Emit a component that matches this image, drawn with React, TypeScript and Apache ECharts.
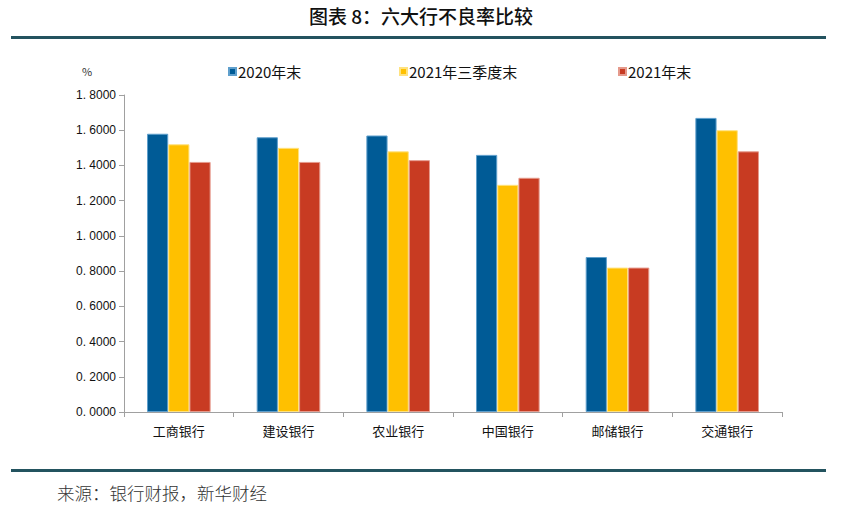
import React, { useEffect, useRef } from "react";
import * as echarts from "echarts";

const categories = ["工商银行", "建设银行", "农业银行", "中国银行", "邮储银行", "交通银行"];
const seriesNames = ["2020年末", "2021年三季度末", "2021年末"];
const values2020 = [1.58, 1.56, 1.57, 1.46, 0.88, 1.67];
const valuesQ3 = [1.52, 1.5, 1.48, 1.29, 0.82, 1.6];
const values2021 = [1.42, 1.42, 1.43, 1.33, 0.82, 1.48];
const colors = ["#005b96", "#ffc000", "#c83b22"];
const borderColors = ["#5f9fcc", "#ffe27f", "#e59a8c"];

const CJK = "'Noto Sans CJK SC', 'Noto Sans', sans-serif";

export default function App() {
  const ref = useRef<HTMLDivElement>(null);
  useEffect(() => {
    if (!ref.current) return;
    const chart = echarts.init(ref.current, null, { renderer: "svg" });
    const data = [values2020, valuesQ3, values2021];
    const legendLefts = [228, 399, 618];
    chart.setOption({
      animation: false,
      backgroundColor: "#ffffff",
      textStyle: { fontFamily: CJK },
      grid: { left: 124, right: 60, top: 95, bottom: 103, containLabel: false },
      legend: seriesNames.map((n, i) => ({
        data: [n],
        left: legendLefts[i],
        top: 64,
        icon: "rect",
        itemWidth: 7,
        itemHeight: 7,
        itemGap: 0,
        padding: 0,
        selectedMode: false,
        textStyle: { fontSize: 15, color: "#111", fontFamily: CJK, padding: [0, 0, 0, -3] },
      })),
      xAxis: {
        type: "category",
        data: categories,
        axisLine: { lineStyle: { color: "#a0a0a0", width: 1 } },
        axisTick: { show: true, length: 5, lineStyle: { color: "#a0a0a0" } },
        axisLabel: { fontSize: 13, color: "#111", margin: 12, fontFamily: CJK },
      },
      yAxis: {
        type: "value",
        min: 0,
        max: 1.8,
        interval: 0.2,
        splitLine: { show: false },
        axisLine: { show: true, lineStyle: { color: "#a0a0a0", width: 1 } },
        axisTick: { show: true, length: 5, lineStyle: { color: "#a0a0a0" } },
        axisLabel: {
          fontSize: 12,
          color: "#111",
          margin: 8,
          fontFamily: "'Liberation Sans', Arial, sans-serif",
          formatter: (v: number) => v.toFixed(4).replace(".", ". "),
        },
      },
      series: seriesNames.map((n, i) => ({
        name: n,
        type: "bar",
        data: data[i],
        barGap: "0%",
        barCategoryGap: "42%",
        itemStyle: { color: colors[i], borderColor: borderColors[i], borderWidth: 1 },
      })),
      graphic: [
        {
          type: "text",
          left: "center",
          top: 6,
          style: { text: "图表 8：六大行不良率比较", fontSize: 19, fontWeight: 500, fill: "#111", fontFamily: CJK },
        },
        { type: "rect", shape: { x: 11, y: 36, width: 815, height: 3 }, style: { fill: "#23535f" } },
        { type: "rect", shape: { x: 11, y: 469, width: 815, height: 3 }, style: { fill: "#23535f" } },
        {
          type: "text",
          left: 82,
          top: 65,
          style: { text: "%", fontSize: 11, fill: "#333", fontFamily: CJK },
        },
        {
          type: "text",
          left: 57,
          top: 484,
          style: { text: "来源：银行财报，新华财经", fontSize: 17.5, fontWeight: 300, fill: "#333", fontFamily: CJK },
        },
      ],
    });
    return () => chart.dispose();
  }, []);
  return <div ref={ref} style={{ width: 842, height: 515, position: "absolute", left: 0, top: 0 }} />;
}
